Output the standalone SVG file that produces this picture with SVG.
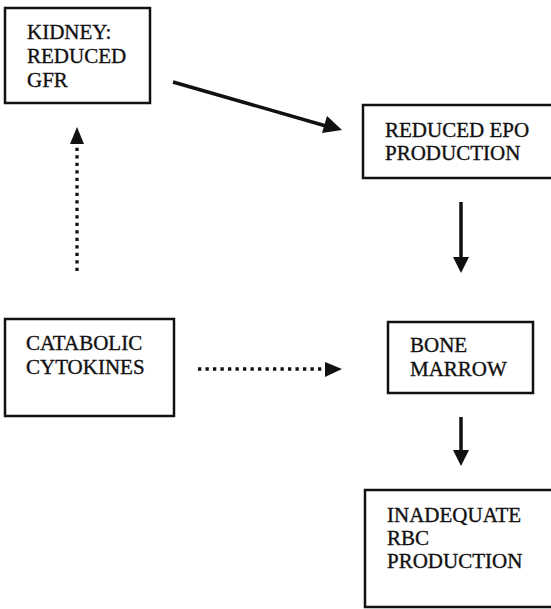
<svg xmlns="http://www.w3.org/2000/svg" width="551" height="609" viewBox="0 0 551 609">
<style>
.box{fill:none;stroke:#111;stroke-width:2.5}
.t{font-family:"Liberation Serif","Times New Roman",serif;font-size:21px;fill:#111;stroke:#111;stroke-width:0.35}
.solid{stroke:#111;stroke-width:3.5;fill:none}
.dot{stroke:#111;stroke-width:3.3;fill:none;stroke-dasharray:3.3 4.2}
.head{fill:#111}
</style>
<rect width="551" height="609" fill="#fff"/>
<g id="kidney">
<rect class="box" x="5" y="8" width="145" height="95"/>
<text class="t" x="27" y="39">KIDNEY:</text>
<text class="t" x="27" y="63">REDUCED</text>
<text class="t" x="27" y="87">GFR</text>
</g>
<g id="epo">
<rect class="box" x="363" y="105" width="195" height="73"/>
<text class="t" x="385" y="137">REDUCED EPO</text>
<text class="t" x="385" y="160">PRODUCTION</text>
</g>
<g id="catabolic">
<rect class="box" x="5" y="319" width="169" height="97"/>
<text class="t" x="26" y="350">CATABOLIC</text>
<text class="t" x="26" y="374">CYTOKINES</text>
</g>
<g id="marrow">
<rect class="box" x="388" y="322" width="145" height="71"/>
<text class="t" x="410" y="352">BONE</text>
<text class="t" x="410" y="376">MARROW</text>
</g>
<g id="inadequate">
<rect class="box" x="365" y="490" width="193" height="117"/>
<text class="t" x="387" y="522">INADEQUATE</text>
<text class="t" x="387" y="545">RBC</text>
<text class="t" x="387" y="568">PRODUCTION</text>
</g>
<g id="connectors">
<line class="solid" x1="173" y1="82" x2="326" y2="126"/>
<path class="head" d="M342,130 L322,133 L327,116 Z"/>
<line class="solid" x1="461" y1="202" x2="461" y2="258"/>
<path class="head" d="M453,257 L469,257 L461,273 Z"/>
<line class="solid" x1="461" y1="417" x2="461" y2="451"/>
<path class="head" d="M453,450 L469,450 L461,466 Z"/>
<line class="dot" x1="77" y1="271" x2="77" y2="144"/>
<path class="head" d="M70,144 L84,144 L77,127 Z"/>
<line class="dot" x1="198" y1="369" x2="325" y2="369"/>
<path class="head" d="M325,362 L342,369 L325,377 Z"/>
</g>
</svg>
